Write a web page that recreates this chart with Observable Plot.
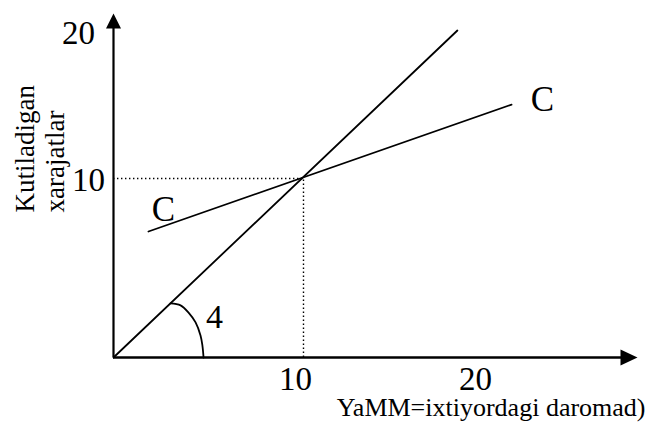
<!DOCTYPE html>
<html>
<head>
<meta charset="utf-8">
<script src="https://cdn.jsdelivr.net/npm/d3@7"></script>
<script src="https://cdn.jsdelivr.net/npm/@observablehq/plot@0.6"></script>
<style>
  html, body { margin: 0; padding: 0; background: white; }
  #chart svg { display: block; }
</style>
</head>
<body>
<div id="chart"></div>
<script>
// ---- data ----
const xTicks = [10, 20];
const yTicks = [10, 20];
const tickLabels = ["10", "20"];
// consumption line C (two end points)
const cX = [1.84, 20.95];
const cY = [7.04, 14.13];
// 45° line
const diagX = [0, 18.1];
const diagY = [0, 18.27];
// equilibrium point
const eqX = 10, eqY = 10;
// angle arc
const arcX = [3.00, 3.53, 3.95, 4.32, 4.58, 4.68, 4.74];
const arcY = [3.02, 2.91, 2.51, 1.96, 1.23, 0.67, 0];
const angleLabel = "4";
const lineLabel = "C";
const xTitle = "YaMM=ixtiyordagi daromad)";
const yTitle = ["Kutiladigan", "xarajatlar"];
const xMax = 27.58, yMax = 19.22;

const font = "'Liberation Serif', 'Times New Roman', serif";
const pts = (xs, ys) => xs.map((x, i) => ({x, y: ys[i]}));

const triRight = {draw(ctx) { ctx.moveTo(0, 0); ctx.lineTo(-17, -8); ctx.lineTo(-17, 8); ctx.closePath(); }};
const triUp = {draw(ctx) { ctx.moveTo(0, 0); ctx.lineTo(-7.5, 15); ctx.lineTo(7.5, 15); ctx.closePath(); }};

const chart = Plot.plot({
  width: 650,
  height: 423,
  marginLeft: 113,
  marginRight: 13,
  marginTop: 13,
  marginBottom: 66,
  x: {domain: [0, xMax], axis: null},
  y: {domain: [0, yMax], axis: null},
  style: {fontFamily: font, background: "white", color: "black"},
  marks: [
    // dotted guides
    Plot.ruleY([eqY], {x1: 0, x2: eqX, stroke: "black", strokeWidth: 1.4, strokeDasharray: "1.4,2.6"}),
    Plot.ruleX([eqX], {y1: 0, y2: eqY, stroke: "black", strokeWidth: 1.4, strokeDasharray: "1.4,2.6"}),
    // axes
    Plot.ruleX([0], {y1: 0, y2: yMax - 0.5, stroke: "black", strokeWidth: 2.2}),
    Plot.ruleY([0], {x1: 0, x2: xMax - 0.5, stroke: "black", strokeWidth: 2.4}),
    Plot.dot([{x: xMax, y: 0}], {x: "x", y: "y", symbol: triRight, fill: "black"}),
    Plot.dot([{x: 0, y: yMax}], {x: "x", y: "y", symbol: triUp, fill: "black"}),
    // lines
    Plot.line(pts(diagX, diagY), {x: "x", y: "y", stroke: "black", strokeWidth: 1.8}),
    Plot.line(pts(cX, cY), {x: "x", y: "y", stroke: "black", strokeWidth: 1.8}),
    Plot.line(pts(arcX, arcY), {x: "x", y: "y", stroke: "black", strokeWidth: 1.8, curve: "catmull-rom"}),
    // labels
    Plot.text([angleLabel], {x: arcX[arcX.length - 1], y: arcY[arcY.length - 1], text: d => d, dx: 11, dy: -40, fontSize: 34, fill: "black"}),
    Plot.text([lineLabel], {x: cX[0], y: cY[0], text: d => d, dx: 15, dy: -22, fontSize: 35, fill: "black"}),
    Plot.text([lineLabel], {x: cX[1], y: cY[1], text: d => d, dx: 31, dy: -5, fontSize: 35, fill: "black"}),
    // x tick labels
    Plot.text([0], {x: xTicks[0], y: 0, text: i => tickLabels[i], dx: -8, dy: 22, fontSize: 33, fill: "black"}),
    Plot.text([1], {x: xTicks[1], y: 0, text: i => tickLabels[i], dx: -18, dy: 22, fontSize: 33, fill: "black"}),
    // y tick labels
    Plot.text([0], {x: 0, y: yTicks[0], text: i => tickLabels[i], dx: -25, dy: 2, fontSize: 33, fill: "black"}),
    Plot.text([1], {x: 0, y: yTicks[1], text: i => tickLabels[i], dx: -35, dy: 34, fontSize: 33, fill: "black"}),
    // axis titles
    Plot.text([xTitle], {x: xMax, y: 0, text: d => d, dx: 8, dy: 50, textAnchor: "end", fontSize: 26, fill: "black"}),
    Plot.text([yTitle[0]], {x: 0, y: yTicks[0], text: d => d, rotate: -90, textAnchor: "start", dx: -88.6, dy: 34, fontSize: 27, fill: "black"}),
    Plot.text([yTitle[1]], {x: 0, y: yTicks[0], text: d => d, rotate: -90, textAnchor: "start", dx: -58.6, dy: 34, fontSize: 27, fill: "black"})
  ]
});
document.getElementById("chart").append(chart);
</script>
</body>
</html>
